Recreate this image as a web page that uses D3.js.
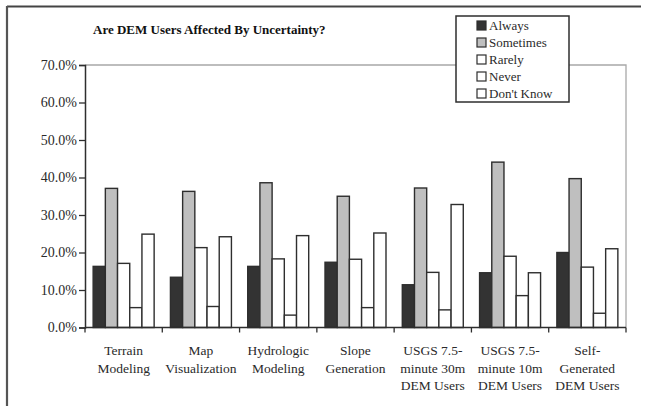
<!DOCTYPE html>
<html>
<head>
<meta charset="utf-8">
<script src="https://cdn.jsdelivr.net/npm/d3@7"></script>
<style>
  html, body { margin: 0; padding: 0; background: #fff; }
  svg { display: block; }
  text { font-family: "Liberation Serif", "Times New Roman", serif; fill: #2a2a2a; }
</style>
</head>
<body>
<svg id="chart" width="647" height="406"></svg>
<script>
// Survey categories (x-axis groups)
const categories = [
  ["Terrain", "Modeling"],
  ["Map", "Visualization"],
  ["Hydrologic", "Modeling"],
  ["Slope", "Generation"],
  ["USGS 7.5-", "minute 30m", "DEM Users"],
  ["USGS 7.5-", "minute 10m", "DEM Users"],
  ["Self-", "Generated", "DEM Users"]
];

// Response series
const seriesNames = ["Always", "Sometimes", "Rarely", "Never", "Don't Know"];
const seriesFill = ["#333333", "#bfbfbf", "#ffffff", "#ffffff", "#ffffff"];

// Share of respondents (%) per series, one value per category
const always    = [16.3, 13.4, 16.3, 17.4, 11.4, 14.6, 20.0];
const sometimes = [37.1, 36.3, 38.6, 35.0, 37.2, 44.1, 39.7];
const rarely    = [17.1, 21.3, 18.3, 18.2, 14.7, 19.0, 16.1];
const never     = [5.3, 5.6, 3.3, 5.3, 4.7, 8.5, 3.8];
const dontKnow  = [24.9, 24.2, 24.5, 25.2, 32.8, 14.6, 21.0];
const seriesValues = [always, sometimes, rarely, never, dontKnow];

const yTicks = [0, 10, 20, 30, 40, 50, 60, 70];

const svg = d3.select("#chart");

// Outer frame (top and left edges)
svg.append("line").attr("x1", 7).attr("x2", 641).attr("y1", 6.5).attr("y2", 6.5)
  .attr("stroke", "#444").attr("stroke-width", 2);
svg.append("line").attr("x1", 7).attr("x2", 7).attr("y1", 6).attr("y2", 406)
  .attr("stroke", "#555").attr("stroke-width", 2.2);

const plot = { left: 85, right: 626, top: 65, bottom: 327.5 };

const x = d3.scaleBand()
  .domain(d3.range(categories.length))
  .range([plot.left, plot.right])
  .paddingInner(0).paddingOuter(0);

const xs = d3.scaleBand()
  .domain(d3.range(seriesNames.length))
  .range([0, x.bandwidth()])
  .paddingInner(0).paddingOuter(0.668);

const y = d3.scaleLinear().domain([0, 70]).range([plot.bottom, plot.top]);

// Title
svg.append("text")
  .attr("x", 93).attr("y", 34)
  .attr("font-size", 13).attr("font-weight", "bold")
  .style("fill", "#111")
  .text("Are DEM Users Affected By Uncertainty?");

// Plot frame: light top and right edges
svg.append("path")
  .attr("d", `M${plot.left},${plot.top}H${plot.right}V${plot.bottom}`)
  .attr("fill", "none").attr("stroke", "#a8a8a8").attr("stroke-width", 1.3);

// Bars
const groups = svg.append("g").selectAll("g")
  .data(categories)
  .join("g")
  .attr("transform", (d, i) => `translate(${x(i)},0)`);

groups.selectAll("rect")
  .data((d, i) => seriesValues.map((vals, s) => ({ s, v: vals[i] })))
  .join("rect")
  .attr("x", d => xs(d.s))
  .attr("width", xs.bandwidth())
  .attr("y", d => y(d.v))
  .attr("height", d => y(0) - y(d.v))
  .attr("fill", d => seriesFill[d.s])
  .attr("stroke", "#2e2e2e")
  .attr("stroke-width", 1.4);

// Y axis
const yAxis = d3.axisLeft(y)
  .tickValues(yTicks)
  .tickSize(6)
  .tickPadding(2)
  .tickFormat(d => d3.format(".1f")(d) + "%");

const gy = svg.append("g")
  .attr("transform", `translate(${plot.left},0)`)
  .call(yAxis);
gy.select(".domain").attr("stroke", "#2e2e2e").attr("stroke-width", 1.5);
gy.selectAll(".tick line").attr("stroke", "#2e2e2e").attr("stroke-width", 1.3);
gy.selectAll(".tick text")
  .attr("font-size", 14)
  .style("font-family", "'Liberation Serif', serif")
  .style("fill", "#2a2a2a");

// X axis with ticks at category boundaries
const boundaries = d3.range(categories.length + 1).map(i =>
  i < categories.length ? x(i) : plot.right);
const gx = svg.append("g");
gx.append("line")
  .attr("x1", plot.left).attr("x2", plot.right)
  .attr("y1", plot.bottom).attr("y2", plot.bottom)
  .attr("stroke", "#2e2e2e").attr("stroke-width", 1.5);
gx.selectAll("line.tick")
  .data(boundaries)
  .join("line")
  .attr("class", "tick")
  .attr("x1", d => d).attr("x2", d => d)
  .attr("y1", plot.bottom).attr("y2", plot.bottom + 5)
  .attr("stroke", "#2e2e2e").attr("stroke-width", 1.3);

// Category labels
const labels = svg.append("g").selectAll("text")
  .data(categories)
  .join("text")
  .attr("x", (d, i) => x(i) + x.bandwidth() / 2)
  .attr("y", 355)
  .attr("text-anchor", "middle")
  .attr("font-size", 13.5);
labels.selectAll("tspan")
  .data(d => d)
  .join("tspan")
  .attr("x", function () { return d3.select(this.parentNode).attr("x"); })
  .attr("dy", (d, j) => j === 0 ? 0 : 17.5)
  .text(d => d);

// Legend
const legend = svg.append("g");
legend.append("rect")
  .attr("x", 456).attr("y", 16).attr("width", 113).attr("height", 86)
  .attr("fill", "#fff").attr("stroke", "#2e2e2e").attr("stroke-width", 1.5);
const items = legend.selectAll("g.item")
  .data(seriesNames)
  .join("g")
  .attr("class", "item")
  .attr("transform", (d, i) => `translate(477,${25.5 + i * 17})`);
items.append("rect")
  .attr("x", 0).attr("y", -4.5).attr("width", 9).attr("height", 9)
  .attr("fill", (d, i) => seriesFill[i])
  .attr("stroke", "#2e2e2e").attr("stroke-width", 1.2);
items.append("text")
  .attr("x", 12).attr("y", 4.5)
  .attr("font-size", 13)
  .text(d => d);
</script>
</body>
</html>
